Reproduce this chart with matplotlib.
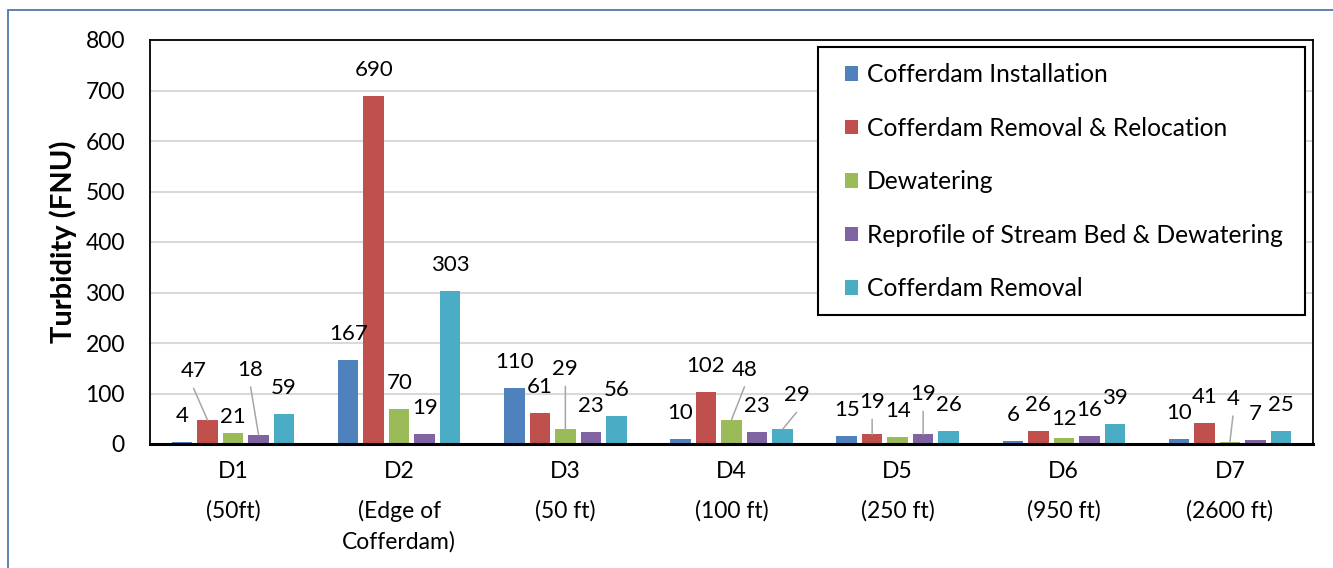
import matplotlib
matplotlib.use("Agg")
import matplotlib.pyplot as plt
from matplotlib.patches import Rectangle

plt.rcParams['font.family'] = ['Lato', 'DejaVu Sans']

# ---- data -------------------------------------------------------------
categories = ["D1", "D2", "D3", "D4", "D5", "D6", "D7"]
distances = ["(50ft)", "(Edge of\nCofferdam)", "(50 ft)", "(100 ft)",
             "(250 ft)", "(950 ft)", "(2600 ft)"]

series_names = [
    "Cofferdam Installation",
    "Cofferdam Removal & Relocation",
    "Dewatering",
    "Reprofile of Stream Bed & Dewatering",
    "Cofferdam Removal",
]
installation = [4, 167, 110, 10, 15, 6, 10]
removal_relocation = [47, 690, 61, 102, 19, 26, 41]
dewatering = [21, 70, 29, 48, 14, 12, 4]
reprofile = [18, 19, 23, 23, 19, 16, 7]
removal = [59, 303, 56, 29, 26, 39, 25]
series_values = [installation, removal_relocation, dewatering, reprofile, removal]

y_ticks = [0, 100, 200, 300, 400, 500, 600, 700, 800]

# ---- style ------------------------------------------------------------
colors = ["#4F81BD", "#C0504D", "#9BBB59", "#8064A2", "#4BACC6"]
W, H, DPI = 1333, 568, 100
PT = 72 / DPI          # points per pixel

bar_pitch = 0.1535
bar_width = 0.123
label_rise = 26        # px from bar top to label centre

# label nudges in px (dx right, dy up), keyed by (series, category)
label_nudge = {
    (1, 0): (-14, 23),
    (2, 0): (0, -10),
    (3, 0): (-8, 39),
    (2, 2): (0, 34),
    (2, 3): (13, 24),
    (4, 3): (14, 8),
    (1, 4): (0, 6),
    (3, 4): (0, 14),
    (2, 5): (0, -7),
    (2, 6): (3, 17),
}
leader_keys = [(1, 0), (3, 0), (2, 2), (2, 3), (4, 3), (1, 4), (3, 4), (2, 6)]

fig = plt.figure(figsize=(W / DPI, H / DPI), dpi=DPI)
fig.patch.set_facecolor("white")

# outer chart border
fig.add_artist(Rectangle((8 / W, -0.1), 1.2, 1 - 10 / H + 0.1,
                         transform=fig.transFigure, fill=False,
                         edgecolor="#4F79A8", linewidth=1.3))

ax = fig.add_axes([150 / W, 1 - 444 / H, (1313 - 150) / W, (444 - 40) / H])

for j, (name, vals) in enumerate(zip(series_names, series_values)):
    xs = [i + (j - 2) * bar_pitch for i in range(len(categories))]
    ax.bar(xs, vals, width=bar_width, color=colors[j], label=name, zorder=3)
    for i, (x, v) in enumerate(zip(xs, vals)):
        dx, dy = label_nudge.get((j, i), (0, 0))
        ax.annotate(str(v), xy=(x, v), xytext=(dx * PT, (label_rise + dy) * PT),
                    textcoords="offset points", ha="center", va="center",
                    fontsize=16, color="black", zorder=5)
        if (j, i) in leader_keys:
            ax.annotate("", xy=(x, v),
                        xytext=(dx * PT, (label_rise + dy - 17) * PT),
                        textcoords="offset points",
                        arrowprops=dict(arrowstyle="-", color="#A6A6A6",
                                        lw=1.1, shrinkA=0, shrinkB=0),
                        zorder=4)

ax.set_xlim(-0.5, len(categories) - 0.5)
ax.set_ylim(0, 800)
ax.set_yticks(y_ticks)
ax.set_xticks(range(len(categories)))
ax.set_xticklabels(categories)
ax.tick_params(axis="both", length=0, labelsize=16.5)
ax.tick_params(axis="y", pad=18)
ax.tick_params(axis="x", pad=12)

for i, d in enumerate(distances):
    ax.annotate(d, xy=(i, 0), xycoords=("data", "axes fraction"),
                xytext=(0, -(500 - 444) * PT), textcoords="offset points",
                ha="center", va="top", fontsize=16.5, linespacing=1.5)

ax.yaxis.grid(True, color="#D9D9D9", linewidth=1.5, zorder=0)
ax.set_axisbelow(True)
for side in ["left", "right", "top"]:
    ax.spines[side].set_color("black")
    ax.spines[side].set_linewidth(1.3)
ax.spines["bottom"].set_linewidth(2.2)
ax.spines["bottom"].set_zorder(6)

ax.set_ylabel("Turbidity (FNU)", fontsize=21, fontweight="bold", labelpad=6)

# legend box drawn separately so its padding can be set per side
ax.add_patch(Rectangle((818 / W, 1 - 315 / H), (1305 - 818) / W, (315 - 47) / H,
                       transform=fig.transFigure, facecolor="white",
                       edgecolor="black", linewidth=1.5, zorder=9,
                       clip_on=False))
leg = ax.legend(loc="upper left", bbox_to_anchor=(845 / W, 1 - 63 / H),
                bbox_transform=fig.transFigure, frameon=False, fontsize=17.7,
                handlelength=0.53, handleheight=0.53, handletextpad=0.37,
                labelspacing=1.245, borderpad=0, borderaxespad=0)
leg.set_zorder(10)

fig.savefig("out.png", dpi=DPI)
